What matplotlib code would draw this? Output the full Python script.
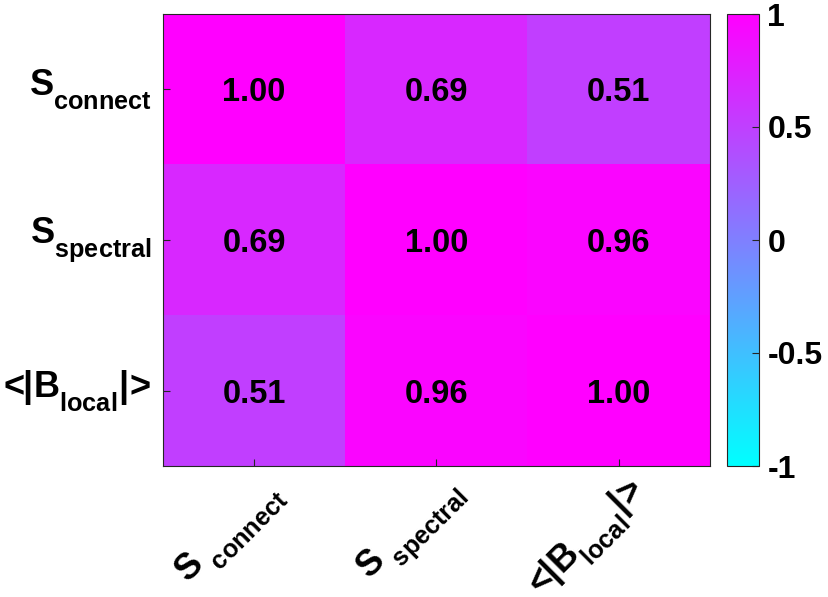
import numpy as np
import matplotlib
matplotlib.use('Agg')
import matplotlib.pyplot as plt
import matplotlib.transforms as mtransforms
import matplotlib._mathtext as mathtext_impl

# Fonts: bold Arial-like everywhere, mathtext for the subscripts
plt.rcParams['font.family'] = 'Liberation Sans'
plt.rcParams['font.weight'] = 'bold'
plt.rcParams['mathtext.fontset'] = 'custom'
plt.rcParams['mathtext.rm'] = 'Liberation Sans:bold'
plt.rcParams['mathtext.bf'] = 'Liberation Sans:bold'
plt.rcParams['mathtext.it'] = 'Liberation Sans:bold'
plt.rcParams['mathtext.default'] = 'bf'


# deeper subscripts, like the MATLAB tex interpreter
class LowSubscripts(mathtext_impl.FontConstantsBase):
    sub1 = 0.7
    subdrop = 0.7


mathtext_impl._font_constant_mapping['Liberation Sans'] = LowSubscripts

# Data:
b_label = r'$<\hspace{-0.25}|B_{local}|\hspace{-0.15}>$'
row_labels = [r'$S_{connect}$', r'$S_{spectral}$', b_label]
col_labels = [r'$S_{\ connect}$', r'$S_{\ spectral}$', b_label]
corr = np.array([[1.00, 0.69, 0.51],
                 [0.69, 1.00, 0.96],
                 [0.51, 0.96, 1.00]])
cbar_ticks = [-1, -0.5, 0, 0.5, 1]
cbar_labels = ['-1', '-0.5', '0', '0.5', '1']

W, H = 829, 597
fig = plt.figure(figsize=(W / 100, H / 100), dpi=100)
ax = fig.add_axes([163 / W, 1 - 466 / H, (710 - 163) / W, (466 - 14) / H])

im = ax.imshow(corr, cmap='cool', vmin=-1, vmax=1, aspect='auto')

for i in range(corr.shape[0]):
    for j in range(corr.shape[1]):
        ax.text(j, i, '%.2f' % corr[i, j], ha='center', va='center_baseline',
                fontsize=23.5, fontweight='bold', color='black')

ax.set_xticks(range(3))
ax.set_yticks(range(3))
ax.set_yticklabels(row_labels, fontsize=26, va='center')
ax.set_xticklabels([])

# rotated column labels, anchored at their right-middle point like MATLAB
xtrans = mtransforms.blended_transform_factory(ax.transData, ax.transAxes)
offset = mtransforms.ScaledTranslation(22 / 100, -21 / 100, fig.dpi_scale_trans)
for j, lab in enumerate(col_labels):
    ax.text(j, 0, lab, transform=xtrans + offset, fontsize=26, rotation=45,
            ha='right', va='center', rotation_mode='anchor', clip_on=False)

ax.tick_params(direction='in', length=5, width=0.8, color='#262626', pad=8)
for sp in ax.spines.values():
    sp.set_color('#262626')
    sp.set_linewidth(0.8)

# Colorbar:
cax = fig.add_axes([727 / W, 1 - 466 / H, 32 / W, (466 - 14) / H])
cb = fig.colorbar(im, cax=cax, ticks=cbar_ticks)
cb.ax.set_yticklabels(cbar_labels, fontsize=23)
cb.ax.tick_params(direction='in', length=5, width=0.8, color='#262626', pad=6)
cb.outline.set_edgecolor('#262626')
cb.outline.set_linewidth(0.8)

fig.savefig('out.png', dpi=100)
